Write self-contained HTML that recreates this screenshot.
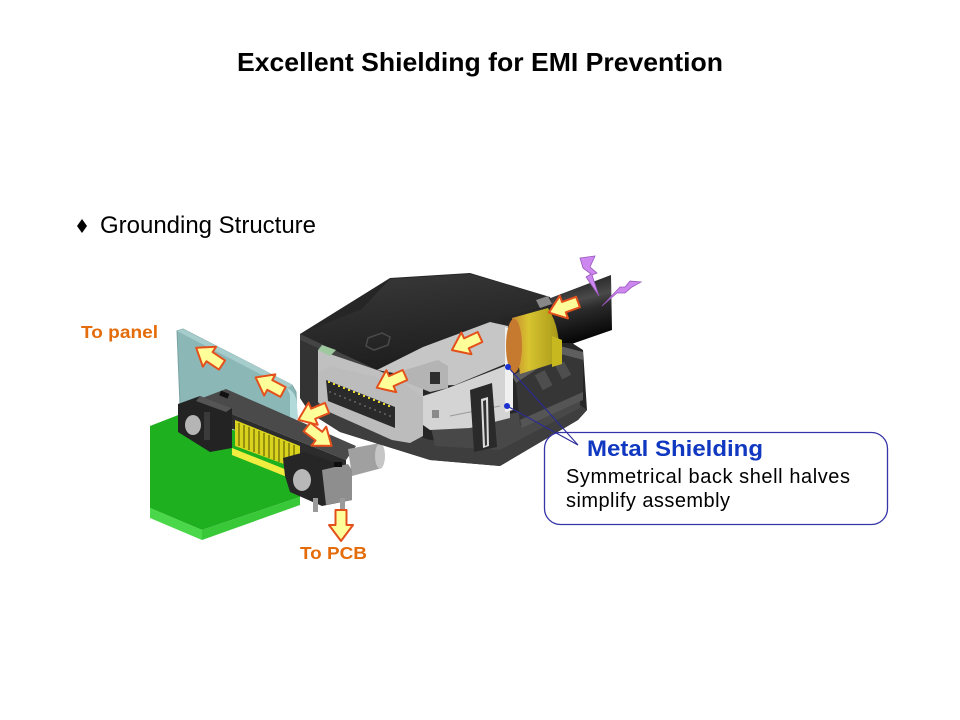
<!DOCTYPE html>
<html>
<head>
<meta charset="utf-8">
<style>
html,body{margin:0;padding:0;background:#fff;}
svg{display:block;}
text{font-family:"Liberation Sans",Arial,sans-serif;}
</style>
</head>
<body>
<svg width="960" height="720" viewBox="0 0 960 720" xmlns="http://www.w3.org/2000/svg">
<defs>
  <linearGradient id="cable" x1="0" y1="0" x2="0.25" y2="1">
    <stop offset="0" stop-color="#0a0a0a"/>
    <stop offset="0.45" stop-color="#4a4a4a"/>
    <stop offset="0.6" stop-color="#2a2a2a"/>
    <stop offset="1" stop-color="#050505"/>
  </linearGradient>
  <linearGradient id="topcov" x1="0" y1="0" x2="0.3" y2="1">
    <stop offset="0" stop-color="#3a3a3a"/>
    <stop offset="1" stop-color="#1e1e1e"/>
  </linearGradient>
  <linearGradient id="ferr" x1="0" y1="0" x2="1" y2="0">
    <stop offset="0" stop-color="#c88a30"/>
    <stop offset="0.35" stop-color="#d8c430"/>
    <stop offset="1" stop-color="#a89818"/>
  </linearGradient>
  <g id="arr">
    <polygon points="0,-5.5 15,-5.5 15,-12 31,0 15,12 15,5.5 0,5.5" fill="#ffff99" stroke="#e4501c" stroke-width="2" stroke-linejoin="round"/>
  </g>
</defs>

<!-- Title -->
<text x="237" y="71" font-size="26" font-weight="bold" fill="#000" textLength="486" lengthAdjust="spacingAndGlyphs">Excellent Shielding for EMI Prevention</text>

<!-- Bullet -->
<polygon points="82,219 87,226 82,233 77,226" fill="#000"/>
<text x="100" y="233" font-size="24" fill="#000" textLength="216" lengthAdjust="spacingAndGlyphs">Grounding Structure</text>

<!-- Labels -->
<text x="81" y="338" font-size="17.5" font-weight="bold" fill="#e46c0a" textLength="77" lengthAdjust="spacingAndGlyphs">To panel</text>
<text x="300" y="559" font-size="17.5" font-weight="bold" fill="#e46c0a" textLength="67" lengthAdjust="spacingAndGlyphs">To PCB</text>

<!-- ===== PCB ===== -->
<polygon points="150,426 186,412 300,455 300,497 202,530 150,508" fill="#1fb01f"/>
<polygon points="150,508 202,530 202,540 150,518" fill="#4ad84a"/>
<polygon points="202,530 300,497 300,505 202,540" fill="#38c838"/>

<!-- ===== Panel ===== -->
<polygon points="177,331 183,329 292,385 296,392 297,418 290,424 180,405" fill="#8cb7b7" stroke="#79a3a3" stroke-width="1"/>
<polygon points="177,331 183,329 293,385 287,388" fill="#a6cccc"/>
<path d="M287,388 Q296,392 297,404 L297,418 Q295,423 290,424 L290,395 Z" fill="#b3dada"/>

<!-- ===== Receptacle connector ===== -->
<polygon points="232,448 292,472 292,479 232,455" fill="#f0ec40"/>
<polygon points="197,400 226,389 356,446 346,460" fill="#4a4a4a"/>
<polygon points="197,400 346,460 346,472 230,428 200,414" fill="#2c2c2c"/>
<rect x="220" y="392" width="9" height="5" fill="#111" transform="rotate(22 224 394)"/>
<polygon points="235,420 300,446 300,470 235,446" fill="#d9d21e"/>
<g stroke="#6b6400" stroke-width="1.2">
  <line x1="239" y1="423" x2="239" y2="446"/><line x1="244" y1="425" x2="244" y2="448"/>
  <line x1="249" y1="427" x2="249" y2="450"/><line x1="254" y1="429" x2="254" y2="452"/>
  <line x1="259" y1="431" x2="259" y2="454"/><line x1="264" y1="433" x2="264" y2="456"/>
  <line x1="269" y1="435" x2="269" y2="458"/><line x1="274" y1="437" x2="274" y2="460"/>
  <line x1="279" y1="439" x2="279" y2="462"/><line x1="284" y1="441" x2="284" y2="464"/>
  <line x1="289" y1="443" x2="289" y2="466"/><line x1="294" y1="445" x2="294" y2="468"/>
</g>
<polygon points="178,404 200,396 232,408 232,448 210,452 178,432" fill="#232323"/>
<polygon points="200,396 232,408 226,412 196,401" fill="#555"/>
<ellipse cx="193" cy="425" rx="8" ry="10" fill="#b5b5b5"/>
<rect x="204" y="412" width="6" height="28" fill="#3a3a3a"/>
<polygon points="348,449 380,443 382,468 352,476" fill="#a0a0a0"/>
<ellipse cx="380" cy="456" rx="5" ry="12.5" fill="#c6c6c6"/>
<polygon points="283,458 305,452 350,468 352,500 322,506 290,492 285,476" fill="#262626"/>
<polygon points="322,470 348,464 352,470 352,500 326,505" fill="#8e8e8e"/>
<rect x="334" y="462" width="8" height="5" fill="#0e0e0e"/>
<ellipse cx="302" cy="480" rx="9" ry="11" fill="#b8b8b8"/>
<rect x="313" y="498" width="5" height="14" fill="#9a9a9a"/>
<rect x="340" y="498" width="5" height="14" fill="#9a9a9a"/>

<!-- ===== Cable ===== -->
<polygon points="540,302 611,275 612,330 563,347" fill="url(#cable)"/>

<!-- ===== Plug housing silhouette ===== -->
<polygon points="300,334 390,278 470,273 550,297 552,304 560,343 572,343 583,350 587,410 578,420 500,466 430,460 340,432 310,413 300,398" fill="#262626"/>
<polygon points="300,334 362,309 390,279 470,274 548,297 550,304 490,322 423,347 377,370" fill="url(#topcov)"/>
<polygon points="300,334 377,370 376,376 300,340" fill="#444"/>
<path d="M368,338 l14,-5 l8,4 l-2,8 l-14,5 l-8,-4 z" fill="none" stroke="#4a4a4a" stroke-width="1.5"/>
<polygon points="300,340 318,348 318,402 310,413 300,398" fill="#333"/>
<polygon points="318,402 430,440 500,447 580,405 587,410 578,420 500,466 430,460 340,432 310,413" fill="#3e3e3e"/>
<polygon points="430,423 505,415 580,398 580,408 500,450 435,446" fill="#484848"/>
<polygon points="512,376 560,346 583,352 583,360 560,354 516,383" fill="#5e5e5e"/>
<polygon points="516,383 560,354 583,360 583,400 520,425" fill="#363636"/>
<rect x="538" y="372" width="11" height="17" fill="#4e4e4e" transform="rotate(-28 543 380)"/>
<rect x="558" y="363" width="10" height="15" fill="#4e4e4e" transform="rotate(-28 563 370)"/>
<polygon points="520,420 583,392 583,400 522,428" fill="#555"/>

<!-- ===== Metal shell ===== -->
<polygon points="318,350 377,370 423,388 423,398 318,374" fill="#c0c0c0"/>
<polygon points="318,350 322,345 336,350 330,356" fill="#9ec89e"/>
<polygon points="377,370 423,347 490,322 508,326 510,362 455,385 430,386 405,375" fill="#c6c6c6"/>
<polygon points="405,370 438,360 448,366 448,388 430,392 405,382" fill="#b4b4b4"/>
<rect x="430" y="372" width="10" height="12" fill="#2e2e2e"/>
<polygon points="423,396 448,388 510,364 510,418 470,428 430,430 423,425" fill="#d4d4d4"/>
<rect x="432" y="410" width="7" height="8" fill="#8a8a8a"/>
<line x1="450" y1="416" x2="500" y2="406" stroke="#9a9a9a" stroke-width="1"/>
<polygon points="505,327 513,330 513,410 505,412" fill="#f0f0f0"/>
<polygon points="318,373 330,366 405,384 423,398 423,436 410,443 392,440 327,411 318,402" fill="#bcbcbc"/>
<polygon points="326,380 395,407 395,428 328,401" fill="#2a2a2a"/>
<g fill="#e8d830">
  <rect x="328" y="381" width="2" height="2"/><rect x="333" y="383" width="2" height="2"/>
  <rect x="338" y="385" width="2" height="2"/><rect x="343" y="387" width="2" height="2"/>
  <rect x="348" y="389" width="2" height="2"/><rect x="353" y="391" width="2" height="2"/>
  <rect x="358" y="393" width="2" height="2"/><rect x="363" y="395" width="2" height="2"/>
  <rect x="368" y="397" width="2" height="2"/><rect x="373" y="399" width="2" height="2"/>
  <rect x="378" y="401" width="2" height="2"/><rect x="383" y="403" width="2" height="2"/>
  <rect x="388" y="405" width="2" height="2"/>
</g>
<g fill="#555">
  <rect x="329" y="391" width="2" height="2"/><rect x="334" y="393" width="2" height="2"/>
  <rect x="339" y="395" width="2" height="2"/><rect x="344" y="397" width="2" height="2"/>
  <rect x="349" y="399" width="2" height="2"/><rect x="354" y="401" width="2" height="2"/>
  <rect x="359" y="403" width="2" height="2"/><rect x="364" y="405" width="2" height="2"/>
  <rect x="369" y="407" width="2" height="2"/><rect x="374" y="409" width="2" height="2"/>
  <rect x="379" y="411" width="2" height="2"/><rect x="384" y="413" width="2" height="2"/>
  <rect x="389" y="415" width="2" height="2"/>
</g>
<polygon points="470,390 492,383 497,447 474,452" fill="#2a2a2a"/>
<polygon points="481,399 488,397 489,446 483,448" fill="#dcdcdc"/>
<polygon points="483,401 486,400 487,445 485,446" fill="#333"/>

<!-- ===== Ferrule ===== -->
<path d="M512,318 L548,308 Q562,330 558,362 L520,374 Z" fill="url(#ferr)"/>
<polygon points="552,336 562,340 562,364 552,367" fill="#c8b820"/>
<ellipse cx="514" cy="346" rx="8" ry="27" fill="#c67a30"/>
<path d="M548,296 L552,304 L540,308 L536,300 Z" fill="#888"/>

<!-- ===== Lightning bolts ===== -->
<polygon points="580,258 595,256 590,267 597,273 592,275 599,296 586,277 591,274 583,268" fill="#cc88ee" stroke="#9955bb" stroke-width="0.8"/>
<polygon points="641,282 630,281 625,287 620,287 602,306 617,293 625,293 632,287" fill="#cc88ee" stroke="#9955bb" stroke-width="0.8"/>

<!-- ===== Arrows ===== -->
<use href="#arr" transform="translate(222,365) rotate(213.7)"/>
<use href="#arr" transform="translate(283,392) rotate(208)"/>
<use href="#arr" transform="translate(327,408) rotate(157.5)"/>
<use href="#arr" transform="translate(307,427) rotate(37.6)"/>
<use href="#arr" transform="translate(341,510) rotate(90)"/>
<use href="#arr" transform="translate(405,375) rotate(155.8)"/>
<use href="#arr" transform="translate(480,337) rotate(155)"/>
<use href="#arr" transform="translate(578,302) rotate(160)"/>

<!-- ===== Callout ===== -->
<rect x="544.5" y="432.5" width="343" height="92" rx="16" ry="16" fill="#fff" stroke="#3535a8" stroke-width="1.3"/>
<line x1="508" y1="367" x2="578" y2="445" stroke="#2a2a99" stroke-width="1.1"/>
<line x1="507" y1="406" x2="578" y2="445" stroke="#2a2a99" stroke-width="1.1"/>
<circle cx="508" cy="367" r="3" fill="#1a30d0"/>
<circle cx="507" cy="406" r="3" fill="#1a30d0"/>
<text x="587" y="456" font-size="22" font-weight="bold" fill="#1038c0" textLength="176" lengthAdjust="spacingAndGlyphs">Metal Shielding</text>
<text x="566" y="483" font-size="20" fill="#000" textLength="284" lengthAdjust="spacing">Symmetrical back shell halves</text>
<text x="566" y="507" font-size="20" fill="#000" textLength="164" lengthAdjust="spacing">simplify assembly</text>
</svg>
</body>
</html>
